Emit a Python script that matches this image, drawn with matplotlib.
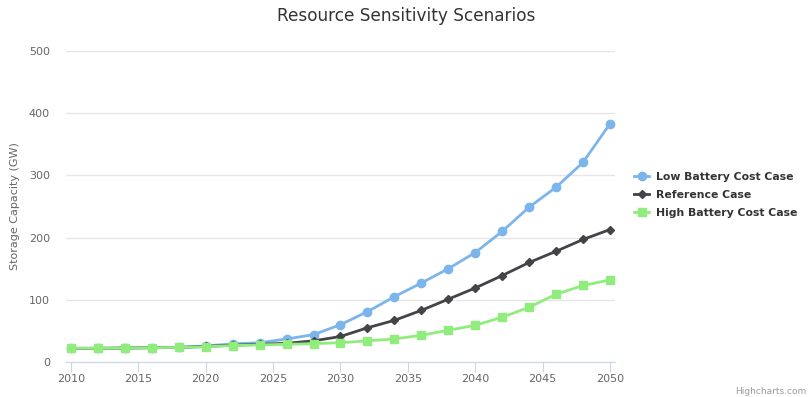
import matplotlib
matplotlib.use('Agg')
import matplotlib.pyplot as plt

# data
years = list(range(2010, 2051, 2))
low_cost = [22, 22, 22.5, 23, 23.5, 26, 29, 31, 37, 44, 60, 81, 105, 127, 150, 176, 210, 249, 281, 321, 383]
reference = [22, 22, 22.5, 23, 23.5, 25, 27, 28.5, 30, 34, 41, 55, 67, 83, 101, 119, 139, 160, 178, 197, 213]
high_cost = [22, 22, 22.5, 23, 23.5, 24.5, 26.5, 27.5, 28.5, 29.5, 31, 34, 37, 43, 51, 59, 72, 88, 109, 123, 132]
series_names = ['Low Battery Cost Case', 'Reference Case', 'High Battery Cost Case']
x_ticks = [2010, 2015, 2020, 2025, 2030, 2035, 2040, 2045, 2050]
y_ticks = [0, 100, 200, 300, 400, 500]

colors = ['#7cb5ec', '#434348', '#90ed7d']
markers = ['o', 'D', 's']
msizes = [6, 4.3, 5.8]

fig = plt.figure(figsize=(8.12, 3.97), dpi=100)
ax = fig.add_axes([66 / 812, 1 - 362 / 397, (615 - 66) / 812, (362 - 51) / 397])

for vals, name, c, m, ms in zip([low_cost, reference, high_cost], series_names, colors, markers, msizes):
    ax.plot(years, vals, color=c, lw=2, marker=m, markersize=ms, label=name, zorder=3)

ax.set_xlim(2010 - 5 / 13.475, 2050 + 5 / 13.475)
ax.set_ylim(0, 500)
ax.set_xticks(x_ticks)
ax.set_yticks(y_ticks)
ax.grid(axis='y', color='#e6e6e6', lw=1)
ax.set_axisbelow(True)
for s in ['top', 'right', 'left']:
    ax.spines[s].set_visible(False)
ax.spines['bottom'].set_color('#ccd6eb')
ax.tick_params(axis='x', colors='#ccd6eb', length=7, labelcolor='#666666', labelsize=8, pad=1.5)
ax.tick_params(axis='y', length=0, labelcolor='#666666', labelsize=8, pad=11.5)
ax.set_ylabel('Storage Capacity (GW)', color='#666666', fontsize=8)
ax.yaxis.set_label_coords((20 - 66) / 549, 0.5)

fig.text(0.5, 1 - 16 / 397, 'Resource Sensitivity Scenarios', ha='center', va='center',
         fontsize=12.2, color='#333333')

leg = fig.legend(*ax.get_legend_handles_labels(), loc='center left',
                 bbox_to_anchor=(634 / 812, 1 - 195 / 397), frameon=False,
                 prop={'weight': 'bold', 'size': 7.8}, handlelength=1.4, handletextpad=0.6,
                 labelspacing=0.75, borderaxespad=0, borderpad=0)
for t in leg.get_texts():
    t.set_color('#333333')

fig.text(806 / 812, 1 - 392 / 397, 'Highcharts.com', ha='right', va='center', fontsize=6.5, color='#999999')

fig.savefig('out.png', dpi=100)
